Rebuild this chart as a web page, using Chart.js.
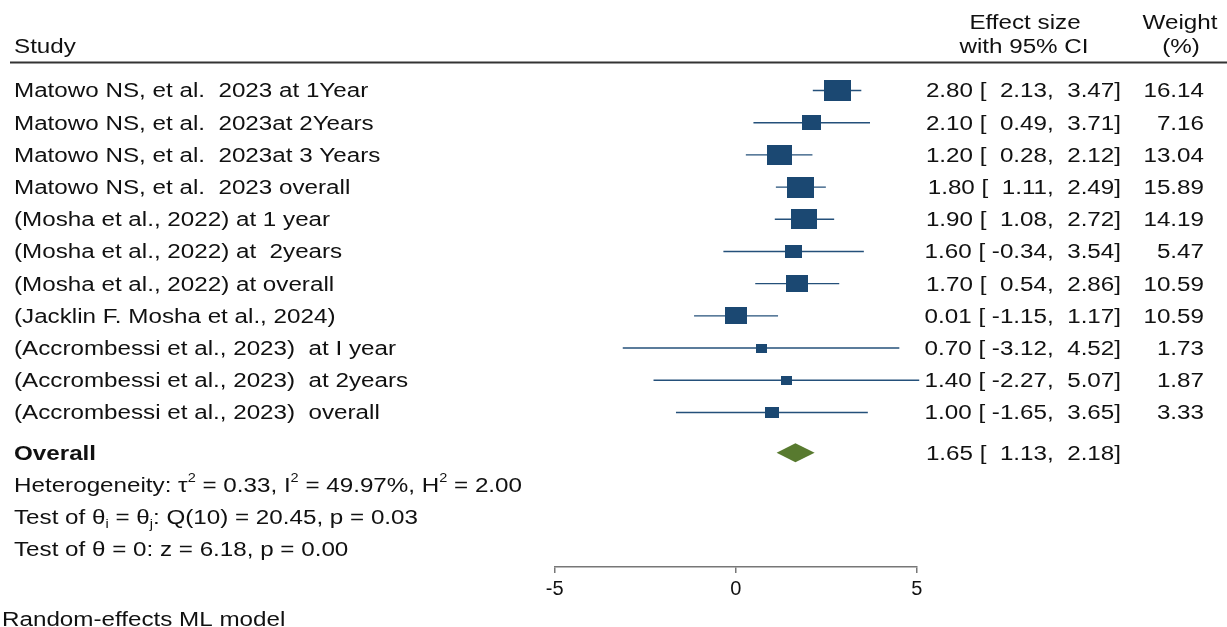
<!DOCTYPE html>
<html>
<head>
<meta charset="utf-8">
<script src="https://cdn.jsdelivr.net/npm/chart.js@4.4.1/dist/chart.umd.min.js"></script>
<style>
  body { margin: 0; background: #fff; }
</style>
</head>
<body>
<canvas id="forest" width="1227" height="627"></canvas>
<script>
// data
const studies = [
    "Matowo NS, et al.  2023 at 1Year",
    "Matowo NS, et al.  2023at 2Years",
    "Matowo NS, et al.  2023at 3 Years",
    "Matowo NS, et al.  2023 overall",
    "(Mosha et al., 2022) at 1 year",
    "(Mosha et al., 2022) at  2years",
    "(Mosha et al., 2022) at overall",
    "(Jacklin F. Mosha et al., 2024)",
    "(Accrombessi et al., 2023)  at I year",
    "(Accrombessi et al., 2023)  at 2years",
    "(Accrombessi et al., 2023)  overall"
];
const effects = [2.80, 2.10, 1.20, 1.80, 1.90, 1.60, 1.70, 0.01, 0.70, 1.40, 1.00];
const lower   = [2.13, 0.49, 0.28, 1.11, 1.08, -0.34, 0.54, -1.15, -3.12, -2.27, -1.65];
const upper   = [3.47, 3.71, 2.12, 2.49, 2.72, 3.54, 2.86, 1.17, 4.52, 5.07, 3.65];
const weights = [16.14, 7.16, 13.04, 15.89, 14.19, 5.47, 10.59, 10.59, 1.73, 1.87, 3.33];
const overallEffect = [1.65, 1.13, 2.18]; // estimate, lower, upper
const xTicks = [-5, 0, 5];

const FONT = '"Liberation Sans", Arial, sans-serif';
const SX = 1.21;         // the reference text is a bit wider than tall
const FS = 20;
const BOX = '#1b4872';
const LINE = '#24507a';
const DIAMOND = '#587a2f';
const overallRow = studies.length + 0.25;

function fmt(v, n) {
    let s = v.toFixed(2);
    while (s.length < n) s = ' ' + s;
    return s;
}

function boxImage(w) {
    const c = document.createElement('canvas');
    const bw = Math.round(2.8 + 6.03 * Math.sqrt(w));
    const bh = Math.round(bw * 0.78);
    c.width = bw;
    c.height = bh;
    const g = c.getContext('2d');
    g.fillStyle = BOX;
    g.fillRect(0, 0, bw, bh);
    return c;
}

// text drawn slightly stretched, like the original export
function put(ctx, s, x, y, align, bold) {
    ctx.save();
    ctx.font = (bold ? 'bold ' : '') + FS + 'px ' + FONT;
    ctx.fillStyle = '#111';
    ctx.translate(x, y);
    ctx.scale(SX, 1);
    ctx.textAlign = align || 'left';
    ctx.textBaseline = 'alphabetic';
    ctx.fillText(s, 0, 0);
    ctx.restore();
}

function putRich(ctx, parts, x, y) {
    ctx.save();
    ctx.translate(x, y);
    ctx.scale(SX, 1);
    ctx.fillStyle = '#111';
    ctx.textBaseline = 'alphabetic';
    ctx.textAlign = 'left';
    let cx = 0;
    parts.forEach(p => {
        const kind = p[1];
        ctx.font = (kind ? '12px ' : FS + 'px ') + FONT;
        let dy = 0;
        if (kind === 'sup') dy = -10;
        if (kind === 'sub') dy = 4;
        ctx.fillText(p[0], cx, dy);
        cx += ctx.measureText(p[0]).width;
    });
    ctx.restore();
}

const textPlugin = {
    id: 'forestText',
    afterDraw(chart) {
        const ctx = chart.ctx;
        const x = chart.scales.x;
        const y = chart.scales.y;

        // headers
        put(ctx, 'Study', 14, 53);
        put(ctx, 'Effect size', 1025, 29, 'center');
        put(ctx, 'with 95% CI', 1024, 53, 'center');
        put(ctx, 'Weight', 1180, 29, 'center');
        put(ctx, '(%)', 1181, 53, 'center');
        ctx.save();
        ctx.strokeStyle = '#333';
        ctx.lineWidth = 2;
        ctx.beginPath();
        ctx.moveTo(10, 62.5);
        ctx.lineTo(1227, 62.5);
        ctx.stroke();
        ctx.restore();

        studies.forEach((s, i) => {
            const py = y.getPixelForValue(i) + 7;
            put(ctx, s, 14, py);
            put(ctx, effects[i].toFixed(2) + ' [' + fmt(lower[i], 6) + ', ' + fmt(upper[i], 5) + ']', 1121, py, 'right');
            put(ctx, weights[i].toFixed(2), 1204, py, 'right');
        });

        // overall diamond
        const oy = y.getPixelForValue(overallRow);
        ctx.save();
        ctx.fillStyle = DIAMOND;
        ctx.beginPath();
        ctx.moveTo(x.getPixelForValue(overallEffect[1]), oy);
        ctx.lineTo(x.getPixelForValue(overallEffect[0]), oy - 9.5);
        ctx.lineTo(x.getPixelForValue(overallEffect[2]), oy);
        ctx.lineTo(x.getPixelForValue(overallEffect[0]), oy + 9.5);
        ctx.closePath();
        ctx.fill();
        ctx.restore();

        put(ctx, 'Overall', 14, oy + 7, 'left', true);
        put(ctx, overallEffect[0].toFixed(2) + ' [' + fmt(overallEffect[1], 6) + ', ' + fmt(overallEffect[2], 5) + ']', 1121, oy + 7, 'right');

        putRich(ctx, [['Heterogeneity: \u03c4'], ['2', 'sup'], [' = 0.33, I'], ['2', 'sup'], [' = 49.97%, H'], ['2', 'sup'], [' = 2.00']], 14, oy + 39);
        putRich(ctx, [['Test of \u03b8'], ['i', 'sub'], [' = \u03b8'], ['j', 'sub'], [': Q(10) = 20.45, p = 0.03']], 14, oy + 71);
        put(ctx, 'Test of \u03b8 = 0: z = 6.18, p = 0.00', 14, oy + 103);
        put(ctx, 'Random-effects ML model', 2, 626);
    }
};

const datasets = [];
studies.forEach((s, i) => {
    datasets.push({
        type: 'line',
        data: [{x: lower[i], y: i}, {x: upper[i], y: i}],
        borderColor: LINE,
        borderWidth: 1.4,
        pointRadius: 0,
        clip: false,
        order: 2
    });
});
datasets.push({
    type: 'scatter',
    data: effects.map((e, i) => ({x: e, y: i})),
    pointStyle: weights.map(w => boxImage(w)),
    clip: false,
    order: 0
});

new Chart(document.getElementById('forest'), {
    type: 'scatter',
    data: { datasets: datasets },
    options: {
        responsive: false,
        animation: false,
        devicePixelRatio: 1,
        layout: { padding: { left: 554.7, right: 310.3, top: 58.3, bottom: 0 } },
        plugins: { legend: { display: false }, tooltip: { enabled: false } },
        scales: {
            x: {
                type: 'linear',
                min: -5,
                max: 5,
                afterBuildTicks: scale => { scale.ticks = xTicks.map(v => ({ value: v })); },
                afterFit: scale => { scale.height = 60; },
                ticks: {
                    color: '#111',
                    padding: 4,
                    maxRotation: 0,
                    font: { family: FONT, size: 20 }
                },
                grid: { drawOnChartArea: false, drawTicks: true, tickLength: 6, color: '#777', lineWidth: 1.5 },
                border: { display: true, color: '#777', width: 1.5 }
            },
            y: {
                type: 'linear',
                reverse: true,
                min: -1,
                max: 14.8,
                display: false
            }
        }
    },
    plugins: [textPlugin]
});
</script>
</body>
</html>
